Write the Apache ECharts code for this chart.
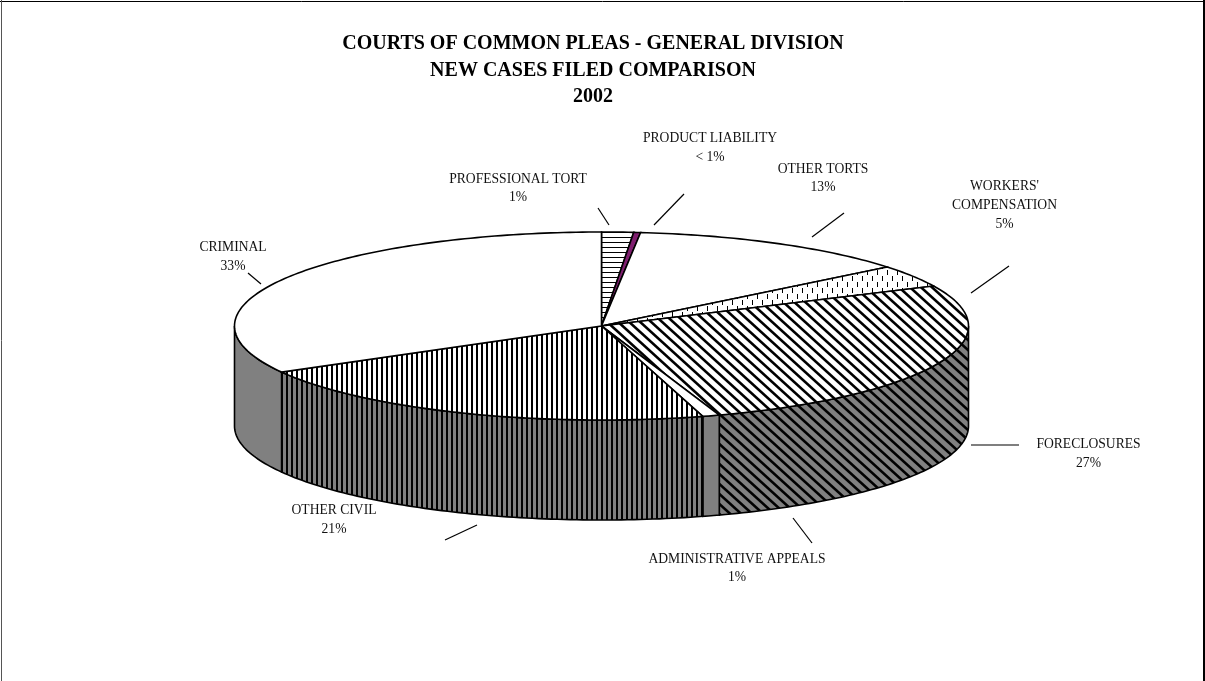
<!DOCTYPE html>
<html><head><meta charset="utf-8">
<style>html,body{margin:0;padding:0;background:#fff}#c{width:1205px;height:681px}</style>
<script src="https://cdn.jsdelivr.net/npm/echarts@6/dist/echarts.min.js"></script>
</head><body><div id="c"></div>
<script>
// Data
const categories = ["PROFESSIONAL TORT","PRODUCT LIABILITY","OTHER TORTS","WORKERS'\nCOMPENSATION","FORECLOSURES","ADMINISTRATIVE APPEALS","OTHER CIVIL","CRIMINAL"];
const percentLabels = ["1%","< 1%","13%","5%","27%","1%","21%","33%"];
const drawnShares = [1.4,0.3,12.5,3.8,26.8,0.75,21.3,33.15];

// Layout and style
const G = {cx:601.5, cy:326, rx:367, ry:94, depth:100};
const labelPos = [[518,188.5],[710,148],[823,178.5],[1004.5,205.5],[1088.5,454],[737,568.5],[334,520],[233,257]];
const leaders = [[598,208,609,225],[684,194,654,225],[812,237,844,213],[971,293,1009,266],[971,445,1019,445],[793,518,812,543],[477,525,445,540],[248,273,261,284]];
const GREY='#808080', INK='#000';
function tile(w,h,bg,draw){const c=document.createElement('canvas');c.width=w;c.height=h;const x=c.getContext('2d');x.fillStyle=bg;x.fillRect(0,0,w,h);x.fillStyle=INK;x.strokeStyle=INK;draw(x);return {image:c,repeat:'repeat'};}
const horiz=b=>tile(5,5,b,x=>x.fillRect(0,2,5,1));
const vert=b=>tile(5,5,b,x=>x.fillRect(1,0,2,5));
const diag=b=>tile(11,10,b,x=>{x.lineWidth=2.6;[-11,0,11].forEach(o=>{x.beginPath();x.moveTo(o-1.1,-1);x.lineTo(o+12.1,11);x.stroke();});});
const dash=b=>tile(10,12,b,x=>{x.fillRect(2,0,1,5);x.fillRect(7,6,1,5);});
const topFill=[horiz('#fff'),'#7F1F6F','#fff',dash('#fff'),diag('#fff'),'#fff',vert('#fff'),'#fff'];
const sideFill=[GREY,'#7F1F6F',GREY,GREY,diag(GREY),GREY,vert(GREY),GREY];

const total=drawnShares.reduce((a,b)=>a+b,0);
const pt=(deg,dy=0)=>{const r=deg*Math.PI/180;return [G.cx+G.rx*Math.sin(r),G.cy-G.ry*Math.cos(r)+dy];};
function span(i){let s=0;for(let k=0;k<i;k++)s+=drawnShares[k];return [s/total*360,(s+drawnShares[i])/total*360];}
function arc(a,b,dy){const out=[],n=Math.max(2,Math.ceil(Math.abs(b-a)));for(let k=0;k<=n;k++)out.push(pt(a+(b-a)*k/n,dy));return out;}

function renderSide(p,api){
  const i=api.value(0),[a,b]=span(i),lo=Math.max(a,90),hi=Math.min(b,270);
  if(hi<=lo)return {type:'group',children:[]};
  return {type:'polygon',shape:{points:arc(lo,hi,0).concat(arc(hi,lo,G.depth))},style:{fill:sideFill[i],stroke:INK,lineWidth:1.6}};
}
function renderTop(p,api){
  const i=api.value(0),[a,b]=span(i);
  return {type:'polygon',shape:{points:[[G.cx,G.cy]].concat(arc(a,b,0))},style:{fill:topFill[i],stroke:INK,lineWidth:1.6}};
}
function renderNote(p,api){
  const i=api.value(0),l=leaders[i];
  return {type:'group',children:[
    {type:'line',shape:{x1:l[0],y1:l[1],x2:l[2],y2:l[3]},style:{stroke:INK,lineWidth:1.2}},
    {type:'text',style:{text:categories[i]+'\n'+percentLabels[i],x:labelPos[i][0],y:labelPos[i][1],align:'center',verticalAlign:'middle',font:'13.6px "Liberation Serif"',lineHeight:18.7,fill:'#111'}}
  ]};
}
const rows=drawnShares.map((v,i)=>[i,v]);
const chart=echarts.init(document.getElementById('c'),null,{renderer:'canvas'});
chart.setOption({
  animation:false,backgroundColor:'#fff',
  title:{text:'COURTS OF COMMON PLEAS - GENERAL DIVISION\nNEW CASES FILED COMPARISON\n2002',left:593,top:31,padding:0,textAlign:'center',
    textStyle:{fontFamily:'"Liberation Serif"',fontSize:20,fontWeight:'bold',color:INK,lineHeight:26.5}},
  graphic:[
    {type:'line',shape:{x1:0,y1:1.5,x2:1205,y2:1.5},style:{stroke:INK,lineWidth:1}},
    {type:'line',shape:{x1:1.5,y1:0,x2:1.5,y2:681},style:{stroke:'#555',lineWidth:1}},
    {type:'line',shape:{x1:1204,y1:0,x2:1204,y2:681},style:{stroke:INK,lineWidth:2}}
  ],
  series:[
    {type:'custom',coordinateSystem:'none',renderItem:renderSide,data:rows,z:2,silent:true},
    {type:'custom',coordinateSystem:'none',renderItem:renderTop,data:rows,z:3,silent:true},
    {type:'custom',coordinateSystem:'none',renderItem:renderNote,data:rows,z:4,silent:true}
  ]
});
</script></body></html>
